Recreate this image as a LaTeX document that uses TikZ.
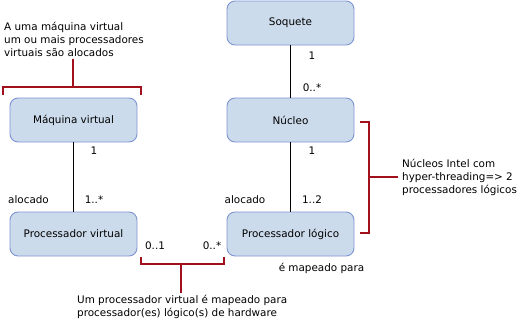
\documentclass[tikz,border=0pt]{standalone}
\usepackage{fontspec}
\setmainfont{DejaVu Sans}
\definecolor{boxfill}{HTML}{CCDBEB}
\definecolor{boxline}{HTML}{7D94D2}
\definecolor{brk}{HTML}{A2101E}
\begin{document}
\begin{tikzpicture}[x=1pt,y=-1pt,
  entity/.style={draw=boxline,fill=boxfill,rounded corners=8pt,line width=0.9pt,minimum width=127pt,minimum height=44pt,inner sep=0pt,font=\fontsize{10.4}{12}\selectfont},
  lbl/.style={font=\fontsize{10.4}{12}\selectfont,inner sep=0pt},
  note/.style={font=\fontsize{10.4}{13.3}\selectfont,inner sep=0pt,align=left},
  assoc/.style={line width=1.4pt,black},
  brace/.style={draw=brk,line width=2pt}]
\useasboundingbox (0,0) rectangle (518,319);
\node[entity] (mv) at (73.5,120) {Máquina virtual};
\node[entity] (pv) at (73.5,234) {Processador virtual};
\node[entity] (sq) at (290.5,23) {Soquete};
\node[entity] (nu) at (290.5,120) {Núcleo};
\node[entity] (pl) at (290.5,234) {Processador lógico};
\draw[assoc] (mv.south) -- (pv.north);
\draw[assoc] (sq.south) -- (nu.north);
\draw[assoc] (nu.south) -- (pl.north);
% multiplicities
\node[lbl] at (94,151) {1};
\node[lbl] at (94,200) {1..*};
\node[lbl] at (28.5,200) {alocado};
\node[lbl] at (155,246) {0..1};
\node[lbl] at (212,246) {0..*};
\node[lbl] at (312,56) {1};
\node[lbl] at (312,88) {0..*};
\node[lbl] at (312,151) {1};
\node[lbl] at (312,200) {1..2};
\node[lbl] at (245,200) {alocado};
\node[lbl] at (321.5,268) {é mapeado para};
% top-left bracket
\coordinate (b1s) at (73,59);
\coordinate (b1m) at (73,87);
\draw[brace] (3,95) -- (3,87) -- (141,87) -- (141,95);
\draw[brace] (b1m) -- (b1s);
\node[note,anchor=north west] (n1) at (4,21.5) {A uma máquina virtual\\um ou mais processadores\\virtuais são alocados};
% right bracket
\coordinate (b2m) at (369,177);
\coordinate (b2e) at (398,177);
\draw[brace] (360,122) -- (369,122) -- (369,233) -- (360,233);
\draw[brace] (b2m) -- (b2e);
\node[note,anchor=west] (n2) at (402,177.5) {Núcleos Intel com\\hyper-threading=> 2\\processadores lógicos};
% bottom bracket
\coordinate (b3m) at (181,264);
\coordinate (b3e) at (181,293);
\draw[brace] (141,257) -- (141,264) -- (224,264) -- (224,257);
\draw[brace] (b3m) -- (b3e);
\node[note,anchor=north west] (n3) at (77,294.5) {Um processador virtual é mapeado para\\processador(es) lógico(s) de hardware};
\end{tikzpicture}
\end{document}
